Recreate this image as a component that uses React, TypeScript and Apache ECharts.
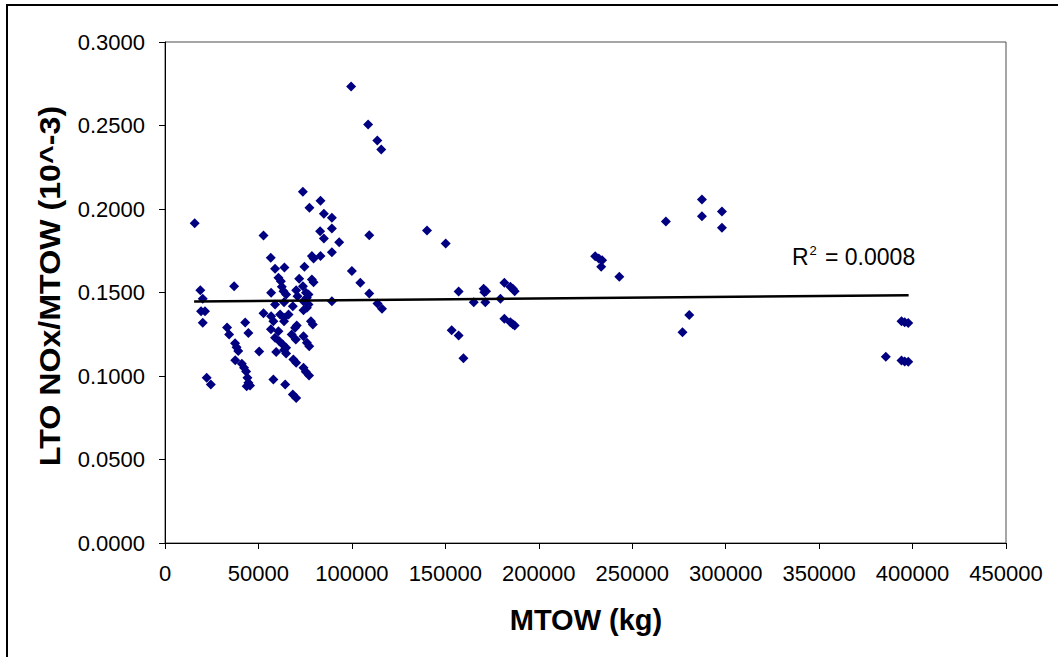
import { useEffect, useRef } from "react";
import * as echarts from "echarts";

// MTOW (kg) of each engine/aircraft point
const mtowKg = [
  15900, 18900, 20200, 19300, 21400, 20200, 22300, 24500,
  33200, 34300, 37000, 37500, 38300, 39200, 37600, 41100, 42300, 43400, 44100, 44600, 43700, 45500, 42900, 44600, 50400,
  52700, 52700, 56600, 56800, 56800, 56700, 58000, 58900, 58900, 58000, 58900, 59500, 60700, 60700, 61200, 61600, 62000,
  62500, 63000, 63400, 63700, 63700, 63700, 63900, 64300, 64800, 64800, 64800, 66100, 63700, 67800, 68400, 68400, 68700,
  70200, 70200, 70200, 70000, 70500, 69600, 70900, 71800, 73800, 73760, 74100, 74100, 74100, 74100, 74600, 75300, 75400,
  75900, 75900, 75900, 76800, 76800, 77100, 77200, 77300, 78100, 78600, 78600, 79100, 79500, 79500, 83000, 83200, 83200,
  85000, 85000, 89300, 89300, 89300, 89300, 93200,
  99600, 108700, 113600, 115700, 100000, 104500, 109300, 109300, 113700, 116100,
  140200, 150200, 153400, 157100, 157100, 159700, 165200, 170500, 171800, 170900, 171400, 179500,
  181600, 184800, 186100, 187100, 181600, 184800, 186100, 187100,
  230200, 232100, 233900, 233400, 243100, 268000, 287300, 287300, 298000, 298000, 280500, 276900,
  394100, 395800, 397700, 385700, 394100, 395800, 397700,
];

// LTO NOx / MTOW (10^-3)
const ltoNoxPerMtow = [
  0.1915, 0.1514, 0.1462, 0.1388, 0.1388, 0.1319, 0.0989, 0.0949,
  0.1290, 0.1249, 0.1537, 0.1196, 0.1172, 0.1149, 0.1094, 0.1073, 0.1049, 0.1027, 0.0989, 0.0959, 0.0939, 0.0943, 0.1320, 0.1258, 0.1147,
  0.1841, 0.1376, 0.1708, 0.1498, 0.1358, 0.1280, 0.0979, 0.1642, 0.1428, 0.1328, 0.1229, 0.1143, 0.1588, 0.1268, 0.1208, 0.1368, 0.1568,
  0.1534, 0.1189, 0.1508, 0.1442, 0.1349, 0.1155, 0.1650, 0.0949, 0.1488, 0.1169, 0.1135, 0.1368, 0.1328, 0.1249, 0.1418, 0.0889, 0.1099,
  0.1079, 0.1514, 0.0869, 0.1219, 0.1302, 0.1289, 0.1478, 0.1582, 0.1538, 0.2103, 0.1448, 0.1394, 0.1238, 0.1049, 0.1654, 0.1025, 0.1498,
  0.1408, 0.1468, 0.1199, 0.1428, 0.1488, 0.1003, 0.1178, 0.2007, 0.1328, 0.1578, 0.1718, 0.1308, 0.1562, 0.1704, 0.1867, 0.2049, 0.1718,
  0.1971, 0.1823, 0.1947, 0.1883, 0.1741, 0.1448, 0.1801,
  0.2734, 0.2506, 0.2410, 0.2356, 0.1628, 0.1558, 0.1843, 0.1494, 0.1434, 0.1402,
  0.1871, 0.1793, 0.1274, 0.1506, 0.1243, 0.1107, 0.1442, 0.1522, 0.1508, 0.1502, 0.1442, 0.1462,
  0.1558, 0.1534, 0.1522, 0.1508, 0.1343, 0.1322, 0.1310, 0.1302,
  0.1717, 0.1704, 0.1693, 0.1654, 0.1594, 0.1925, 0.2057, 0.1957, 0.1985, 0.1887, 0.1366, 0.1262,
  0.1328, 0.1322, 0.1318, 0.1115, 0.1093, 0.1087, 0.1085,
];

// Linear trendline end points
const trendMtowKg = [15600, 397900];
const trendRatio = [0.1446, 0.1484];
const rSquaredValue = "0.0008";

const xAxisTitle = "MTOW (kg)";
const yAxisTitle = "LTO NOx/MTOW (10^-3)";

export default function App() {
  const ref = useRef<HTMLDivElement>(null);
  useEffect(() => {
    const chart = echarts.init(ref.current!, null, { renderer: "svg" });
    const font = "'Liberation Sans', Arial, Helvetica, sans-serif";
    chart.setOption({
      animation: false,
      backgroundColor: "#ffffff",
      grid: {
        left: 165,
        top: 42,
        right: 52,
        bottom: 114,
        show: true,
        borderColor: "#4d4d4d",
        borderWidth: 1,
        backgroundColor: "#ffffff",
      },
      xAxis: {
        type: "value",
        min: 0,
        max: 450000,
        interval: 50000,
        axisLine: { show: true, onZero: false, lineStyle: { color: "#000", width: 1 } },
        axisTick: { show: true, length: 6, lineStyle: { color: "#000" } },
        splitLine: { show: false },
        axisLabel: {
          margin: 19,
          fontSize: 22,
          color: "#000",
          fontFamily: font,
          formatter: (v: number) => String(v),
        },
      },
      yAxis: {
        type: "value",
        min: 0,
        max: 0.3,
        interval: 0.05,
        axisLine: { show: true, onZero: false, lineStyle: { color: "#000", width: 1 } },
        axisTick: { show: true, length: 6, lineStyle: { color: "#000" } },
        splitLine: { show: false },
        axisLabel: {
          margin: 20,
          fontSize: 22,
          color: "#000",
          fontFamily: font,
          formatter: (v: number) => v.toFixed(4),
        },
      },
      series: [
        {
          type: "scatter",
          data: mtowKg.map((x, i) => [x, ltoNoxPerMtow[i]]),
          symbol: "diamond",
          symbolSize: 10,
          itemStyle: { color: "#000080", opacity: 1 },
          z: 2,
        },
        {
          type: "line",
          data: trendMtowKg.map((x, i) => [x, trendRatio[i]]),
          symbol: "none",
          lineStyle: { color: "#000", width: 2.5 },
          z: 3,
        },
      ],
      graphic: [
        {
          type: "rect",
          shape: { x: 7, y: 5, width: 1100, height: 700 },
          style: { fill: "none", stroke: "#000", lineWidth: 2 },
          silent: true,
        },
        {
          type: "text",
          x: 50,
          y: 286,
          rotation: Math.PI / 2,
          scaleX: 1.11,
          style: {
            text: yAxisTitle,
            fontSize: 29,
            fontWeight: "bold",
            fontFamily: font,
            fill: "#000",
            align: "center",
            verticalAlign: "middle",
          },
        },
        {
          type: "text",
          x: 586,
          y: 620,
          style: {
            text: xAxisTitle,
            fontSize: 29,
            fontWeight: "bold",
            fontFamily: font,
            fill: "#000",
            align: "center",
            verticalAlign: "middle",
          },
        },
        {
          type: "text",
          x: 792,
          y: 257,
          style: { text: "R", fontSize: 23, fontFamily: font, fill: "#000", align: "left", verticalAlign: "middle" },
        },
        {
          type: "text",
          x: 809.5,
          y: 244,
          style: { text: "2", fontSize: 13, fontFamily: font, fill: "#000", align: "left", verticalAlign: "top" },
        },
        {
          type: "text",
          x: 825,
          y: 257,
          style: { text: "= " + rSquaredValue, fontSize: 23, fontFamily: font, fill: "#000", align: "left", verticalAlign: "middle" },
        },
      ],
    });
    return () => chart.dispose();
  }, []);
  return <div ref={ref} style={{ position: "absolute", left: 0, top: 0, width: 1058, height: 657 }} />;
}
